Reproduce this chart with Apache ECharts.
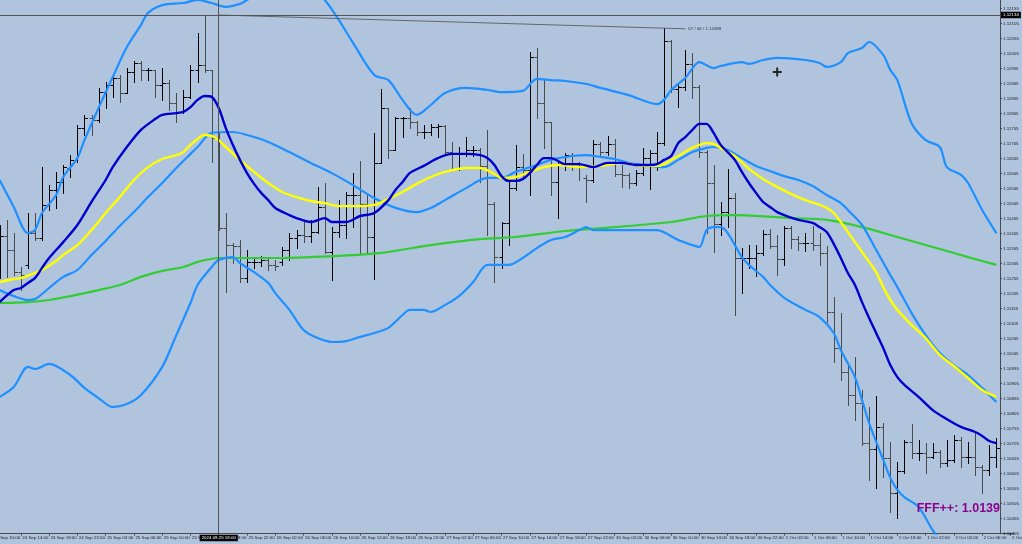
<!DOCTYPE html>
<html><head><meta charset="utf-8">
<script src="https://cdn.jsdelivr.net/npm/echarts@6/dist/echarts.min.js"></script>
<style>html,body{margin:0;padding:0;background:#b0c4de;}#c{width:1022px;height:544px;}</style>
</head><body><div id="c"></div>
<script>
// ---- time axis (hourly sessions, weekend skipped) ----
const sessions = [['24 Sep',10,23],['25 Sep',0,23],['26 Sep',0,23],['27 Sep',0,23],['30 Sep',0,23],['1 Oct',0,23],['2 Oct',0,10]];
const categories = [];
sessions.forEach(([d,h0,h1]) => { for (let h=h0; h<=h1; h++) categories.push(d + ' ' + String(h).padStart(2,'0') + ':00'); });

// ---- price axis ----
const yMin = 1.10405, yMax = 1.12184, yStep = 0.0005;

// ---- OHLC bars (index 0 = 24 Sep 10:00) ----
const open = [1.11384,1.11384,1.11397,1.11351,1.11277,1.11301,1.11407,1.11391,1.11501,1.11551,1.11577,1.11624,1.11651,1.11757,1.11791,1.11784,1.11877,1.11901,1.11924,1.11874,1.11944,1.11974,1.11951,1.11951,1.11901,1.11907,1.11841,1.11811,1.11861,1.11951,1.11967,1.11951,1.11724,1.11424,1.11367,1.11364,1.11257,1.11311,1.11311,1.11317,1.11301,1.11311,1.11351,1.11391,1.11401,1.11397,1.11411,1.11494,1.11344,1.11411,1.11434,1.11534,1.11534,1.11504,1.11394,1.11641,1.11824,1.11684,1.11791,1.11791,1.11777,1.11744,1.11744,1.11761,1.11764,1.11677,1.11671,1.11671,1.11684,1.11684,1.11631,1.11504,1.11327,1.11441,1.11557,1.11627,1.11617,1.11994,1.11841,1.11777,1.11577,1.11634,1.11667,1.11637,1.11591,1.11584,1.11704,1.11677,1.11704,1.11604,1.11601,1.11574,1.11607,1.11657,1.11674,1.11707,1.12047,1.11887,1.11894,1.11971,1.11894,1.11677,1.11574,1.11437,1.11477,1.11524,1.11324,1.11324,1.11324,1.11341,1.11404,1.11364,1.11321,1.11424,1.11387,1.11374,1.11374,1.11367,1.11341,1.11144,1.11024,1.10944,1.10867,1.10841,1.10707,1.10687,1.10761,1.10657,1.10541,1.10614,1.10711,1.10674,1.10674,1.10661,1.10677,1.10641,1.10651,1.10717,1.10661,1.10661,1.10627,1.10617,1.10661];
const high = [1.11434,1.11434,1.11451,1.11407,1.11294,1.11474,1.11474,1.11627,1.11567,1.11611,1.11634,1.11667,1.11767,1.11801,1.11801,1.11891,1.11911,1.11934,1.11934,1.11957,1.11981,1.11981,1.11957,1.11951,1.11957,1.11917,1.11874,1.11884,1.11967,1.12074,1.12134,1.11951,1.11744,1.11474,1.11374,1.11384,1.11351,1.11327,1.11331,1.11321,1.11317,1.11361,1.11407,1.11417,1.11444,1.11451,1.11561,1.11574,1.11427,1.11517,1.11544,1.11607,1.11647,1.11541,1.11741,1.11887,1.11824,1.11794,1.11794,1.11824,1.11781,1.11767,1.11771,1.11771,1.11767,1.11711,1.11694,1.11727,1.11697,1.11691,1.11751,1.11511,1.11444,1.11577,1.11701,1.11671,1.12011,1.12024,1.11921,1.11777,1.11651,1.11674,1.11674,1.11644,1.11601,1.11717,1.11711,1.11731,1.11721,1.11634,1.11607,1.11617,1.11691,1.11684,1.11744,1.12091,1.12051,1.11907,1.12017,1.12007,1.11901,1.11684,1.11634,1.11511,1.11621,1.11541,1.11357,1.11367,1.11367,1.11417,1.11421,1.11401,1.11431,1.11431,1.11397,1.11407,1.11431,1.11407,1.11364,1.11194,1.11141,1.10974,1.10994,1.10884,1.10827,1.10864,1.10774,1.10711,1.10644,1.10717,1.10771,1.10717,1.10707,1.10707,1.10684,1.10717,1.10734,1.10727,1.10711,1.10741,1.10634,1.10701,1.10724];
const low = [1.11284,1.11257,1.11261,1.11267,1.11217,1.11291,1.11384,1.11384,1.11484,1.11491,1.11541,1.11594,1.11644,1.11734,1.11734,1.11777,1.11824,1.11861,1.11844,1.11874,1.11911,1.11917,1.11917,1.11861,1.11851,1.11817,1.11777,1.11807,1.11857,1.11911,1.11944,1.11644,1.11417,1.11211,1.11307,1.11244,1.11244,1.11291,1.11297,1.11284,1.11284,1.11301,1.11317,1.11357,1.11377,1.11377,1.11407,1.11341,1.11251,1.11394,1.11391,1.11427,1.11341,1.11344,1.11254,1.11641,1.11657,1.11684,1.11727,1.11757,1.11734,1.11724,1.11734,1.11727,1.11674,1.11624,1.11617,1.11664,1.11664,1.11577,1.11401,1.11244,1.11291,1.11367,1.11551,1.11591,1.11534,1.11791,1.11691,1.11534,1.11457,1.11617,1.11617,1.11584,1.11511,1.11577,1.11667,1.11667,1.11597,1.11561,1.11557,1.11567,1.11601,1.11554,1.11617,1.11701,1.11877,1.11827,1.11884,1.11857,1.11661,1.11407,1.11344,1.11401,1.11427,1.11134,1.11207,1.11291,1.11264,1.11334,1.11357,1.11267,1.11301,1.11357,1.11351,1.11347,1.11351,1.11301,1.11111,1.10977,1.10917,1.10834,1.10784,1.10701,1.10584,1.10557,1.10594,1.10477,1.10457,1.10607,1.10657,1.10651,1.10607,1.10657,1.10627,1.10631,1.10644,1.10627,1.10641,1.10601,1.10541,1.10601,1.10627];
const close = [1.11384,1.11397,1.11351,1.11277,1.11267,1.11407,1.11391,1.11501,1.11551,1.11577,1.11627,1.11651,1.11757,1.11791,1.11784,1.11877,1.11901,1.11924,1.11874,1.11944,1.11974,1.11951,1.11951,1.11901,1.11907,1.11841,1.11811,1.11861,1.11951,1.11967,1.11951,1.11724,1.11424,1.11367,1.11364,1.11257,1.11311,1.11311,1.11317,1.11301,1.11297,1.11351,1.11391,1.11401,1.11397,1.11411,1.11494,1.11344,1.11411,1.11434,1.11534,1.11534,1.11504,1.11394,1.11641,1.11824,1.11684,1.11791,1.11791,1.11777,1.11744,1.11744,1.11761,1.11764,1.11677,1.11671,1.11671,1.11684,1.11684,1.11631,1.11504,1.11327,1.11441,1.11557,1.11627,1.11617,1.11994,1.11841,1.11777,1.11577,1.11634,1.11667,1.11637,1.11627,1.11584,1.11704,1.11677,1.11704,1.11604,1.11601,1.11574,1.11607,1.11657,1.11674,1.11707,1.12047,1.11887,1.11894,1.11971,1.11894,1.11677,1.11574,1.11437,1.11477,1.11524,1.11324,1.11324,1.11324,1.11341,1.11404,1.11364,1.11321,1.11424,1.11387,1.11374,1.11374,1.11367,1.11341,1.11144,1.11024,1.10944,1.10867,1.10841,1.10707,1.10687,1.10761,1.10657,1.10541,1.10614,1.10711,1.10674,1.10674,1.10661,1.10677,1.10641,1.10651,1.10717,1.10661,1.10661,1.10627,1.10617,1.10661,1.10691];

// ---- indicator lines: [bar index, price] read at sample points ----
const bbUpper = [[1,1.11584],[3,1.11494],[5,1.11407],[6,1.11417],[7,1.11474],[9,1.11534],[10,1.11594],[12,1.11657],[13,1.11717],[15,1.11824],[17,1.11927],[19,1.12027],[21,1.12101],[22,1.12141],[24,1.12167],[27,1.12174],[29,1.12184],[31,1.12174],[33,1.12161],[35,1.12171],[36,1.12184],[39,1.12224],[41,1.12244],[43,1.12244],[45,1.12224],[47,1.12184],[49,1.12117],[51,1.12041],[54,1.11934],[56,1.11917],[58,1.11851],[60,1.11801],[62,1.11834],[64,1.11874],[67,1.11891],[70,1.11884],[72,1.11877],[75,1.11881],[77,1.11921],[79,1.11917],[81,1.11914],[84,1.11904],[86,1.11891],[90,1.11867],[94,1.11837],[95,1.11851],[96,1.11884],[98,1.11924],[100,1.11977],[102,1.11957],[103,1.11964],[106,1.11977],[107,1.11971],[109,1.11984],[111,1.11991],[115,1.11984],[117,1.11974],[118,1.11961],[120,1.11977],[121,1.12007],[123,1.12024],[124,1.12044],[126,1.12001],[127,1.11951],[128,1.11917],[130,1.11774],[132,1.11717],[134,1.11694],[135,1.11627],[137,1.11601],[138,1.11574],[140,1.11484],[142,1.11407]];
const bbMiddle = [[1,1.11217],[3,1.11197],[5,1.11184],[6,1.11187],[8,1.11224],[10,1.11261],[12,1.11284],[14,1.11334],[16,1.11381],[18,1.11431],[20,1.11477],[22,1.11527],[24,1.11574],[26,1.11624],[28,1.11671],[29,1.11694],[31,1.11741],[34,1.11744],[36,1.11734],[39,1.11711],[42,1.11677],[45,1.11641],[48,1.11607],[51,1.11567],[54,1.11524],[57,1.11491],[60,1.11477],[62,1.11491],[64,1.11517],[67,1.11557],[70,1.11591],[72,1.11591],[74,1.11611],[77,1.11634],[79,1.11651],[82,1.11664],[84,1.11667],[86,1.11661],[88,1.11654],[90,1.11641],[93,1.11631],[95,1.11627],[97,1.11651],[99,1.11677],[101,1.11691],[102,1.11694],[104,1.11684],[106,1.11657],[108,1.11631],[110,1.11614],[112,1.11597],[114,1.11584],[116,1.11564],[118,1.11534],[120,1.11507],[121,1.11484],[123,1.11434],[125,1.11351],[127,1.11267],[128,1.11227],[130,1.11141],[132,1.11067],[134,1.11007],[136,1.10967],[138,1.10934],[140,1.10891],[142,1.10844]];
const bbLower = [[1,1.10861],[3,1.10894],[5,1.10961],[6,1.10954],[8,1.10971],[11,1.10934],[13,1.10891],[15,1.10857],[17,1.10827],[19,1.10837],[21,1.10867],[24,1.10961],[26,1.11067],[28,1.11174],[29,1.11234],[31,1.11294],[32,1.11317],[34,1.11327],[35,1.11307],[37,1.11277],[39,1.11241],[40,1.11207],[42,1.11151],[44,1.11084],[46,1.11057],[48,1.11044],[50,1.11047],[52,1.11061],[54,1.11074],[56,1.11091],[58,1.11134],[59,1.11151],[61,1.11151],[62,1.11144],[64,1.11167],[66,1.11197],[68,1.11244],[70,1.11301],[72,1.11301],[73,1.11301],[75,1.11324],[77,1.11357],[79,1.11384],[81,1.11394],[83,1.11417],[84,1.11427],[85,1.11417],[88,1.11417],[92,1.11417],[94,1.11417],[97,1.11384],[99,1.11367],[100,1.11361],[101,1.11417],[102,1.11427],[103,1.11427],[104,1.11407],[106,1.11327],[107,1.11301],[109,1.11261],[110,1.11234],[112,1.11191],[115,1.11151],[117,1.11127],[119,1.11074],[120,1.11017],[122,1.10927],[123,1.10851],[124,1.10774],[126,1.10651],[127,1.10591],[128,1.10551],[129,1.10527],[131,1.10494],[133,1.10417],[135,1.10357],[137,1.10301],[139,1.10251],[142,1.10184]];
const maFast = [[1,1.11177],[3,1.11217],[4,1.11224],[5,1.11241],[6,1.11257],[7,1.11291],[8,1.11324],[10,1.11377],[12,1.11434],[14,1.11511],[16,1.11584],[17,1.11627],[19,1.11694],[21,1.11751],[23,1.11787],[24,1.11801],[26,1.11807],[27,1.11811],[28,1.11827],[29,1.11851],[30,1.11864],[31,1.11861],[32,1.11824],[33,1.11757],[34,1.11701],[35,1.11651],[36,1.11607],[37,1.11571],[38,1.11541],[39,1.11517],[40,1.11491],[42,1.11467],[43,1.11457],[45,1.11444],[47,1.11457],[48,1.11444],[50,1.11444],[52,1.11464],[54,1.11474],[56,1.11517],[57,1.11551],[58,1.11577],[59,1.11607],[61,1.11631],[63,1.11657],[65,1.11671],[67,1.11671],[69,1.11667],[70,1.11657],[71,1.11634],[72,1.11597],[73,1.11581],[74,1.11581],[75,1.11587],[76,1.11607],[77,1.11634],[78,1.11657],[79,1.11657],[81,1.11637],[83,1.11637],[85,1.11627],[87,1.11641],[89,1.11641],[91,1.11634],[93,1.11634],[94,1.11637],[95,1.11651],[96,1.11664],[97,1.11707],[98,1.11727],[99,1.11751],[100,1.11771],[101,1.11771],[102,1.11741],[103,1.11701],[104,1.11677],[105,1.11651],[106,1.11611],[107,1.11574],[108,1.11541],[109,1.11511],[110,1.11494],[111,1.11477],[112,1.11467],[114,1.11451],[116,1.11441],[117,1.11427],[118,1.11411],[119,1.11371],[120,1.11324],[121,1.11274],[122,1.11234],[123,1.11177],[124,1.11124],[125,1.11074],[126,1.11024],[127,1.10967],[128,1.10927],[129,1.10901],[131,1.10861],[133,1.10817],[135,1.10787],[137,1.10761],[139,1.10744],[140,1.10731],[141,1.10714],[142,1.10707]];
const maMid = [[1,1.11244],[3,1.11254],[4,1.11257],[6,1.11274],[7,1.11284],[9,1.11314],[10,1.11334],[12,1.11367],[14,1.11417],[16,1.11474],[18,1.11527],[20,1.11584],[22,1.11627],[24,1.11654],[26,1.11667],[27,1.11677],[28,1.11701],[29,1.11721],[30,1.11734],[31,1.11731],[32,1.11717],[33,1.11694],[35,1.11651],[37,1.11611],[39,1.11574],[41,1.11544],[43,1.11527],[45,1.11514],[47,1.11507],[49,1.11497],[51,1.11497],[54,1.11501],[56,1.11521],[58,1.11544],[60,1.11571],[62,1.11594],[64,1.11611],[67,1.11624],[69,1.11624],[70,1.11617],[71,1.11604],[72,1.11591],[74,1.11594],[76,1.11611],[78,1.11627],[80,1.11634],[83,1.11627],[86,1.11631],[89,1.11641],[92,1.11631],[94,1.11631],[95,1.11637],[96,1.11651],[97,1.11664],[99,1.11691],[101,1.11707],[102,1.11704],[103,1.11691],[105,1.11664],[107,1.11621],[109,1.11587],[111,1.11561],[113,1.11537],[115,1.11517],[117,1.11501],[118,1.11491],[119,1.11474],[120,1.11444],[122,1.11377],[123,1.11344],[124,1.11311],[125,1.11277],[126,1.11227],[127,1.11184],[128,1.11151],[130,1.11101],[132,1.11057],[134,1.11001],[136,1.10964],[138,1.10924],[140,1.10884],[142,1.10861]];
const maSlow = [[1,1.11174],[5,1.11177],[8,1.11184],[11,1.11197],[15,1.11217],[18,1.11234],[21,1.11261],[24,1.11281],[27,1.11294],[29,1.11311],[32,1.11324],[36,1.11324],[41,1.11324],[45,1.11327],[49,1.11331],[55,1.11341],[62,1.11367],[69,1.11387],[74,1.11394],[81,1.11414],[88,1.11427],[96,1.11444],[101,1.11464],[105,1.11467],[113,1.11457],[118,1.11451],[123,1.11427],[128,1.11394],[134,1.11354],[138,1.11327],[142,1.11301]];

// ---- crosshair / measurement / cursor ----
const crossIndex = 32, crossPrice = 1.12134, crossTimeText = '2024.09.25 18:00';
const measureLine = [[32, 1.12134], [97.5, 1.12088]];
const measureText = '67 / 46 / 1.12088';
const cursorPoint = [[111, 1.11944]];
const infoText = 'FFF++: 1.0139';

const bars = open.map((o, i) => [i, o, high[i], low[i], close[i]]);
const labelFilter = (idx, val) => { const h = parseInt(val.slice(-5, -3), 10); return h % 4 === 2; };

function renderBar(params, api) {
  const i = api.value(0), o = api.value(1), h = api.value(2), l = api.value(3), c = api.value(4);
  const pO = api.coord([i, o]), pH = api.coord([i, h]), pL = api.coord([i, l]), pC = api.coord([i, c]);
  const x = Math.round(pO[0]) + 0.5;
  const yo = Math.round(pO[1]) + 0.5, yc = Math.round(pC[1]) + 0.5;
  const style = { stroke: c >= o ? '#000000' : '#4a4a4a', lineWidth: 1 };
  return { type: 'group', children: [
    { type: 'line', shape: { x1: x, y1: Math.round(pH[1]), x2: x, y2: Math.round(pL[1]) + 1 }, style },
    { type: 'line', shape: { x1: x - 3, y1: yo, x2: x, y2: yo }, style },
    { type: 'line', shape: { x1: x, y1: yc, x2: x + 3.5, y2: yc }, style }
  ]};
}

const FONT = 'Liberation Sans';
const lineSeries = (name, data, color, width, z) => ({
  name, type: 'line', data, symbol: 'none', smooth: 0.3, clip: true, silent: true, z,
  lineStyle: { color, width }
});

const chart = echarts.init(document.getElementById('c'), null, { renderer: 'canvas' });
chart.setOption({
  backgroundColor: '#b0c4de',
  animation: false,
  title: { text: infoText, right: 22, top: 502, padding: 0,
    textStyle: { color: '#8b008b', fontSize: 12.5, fontWeight: 'bold', fontFamily: FONT } },
  grid: { left: -11, top: 0, width: 1025, height: 533.7, outerBoundsMode: 'none', containLabel: false },
  axisPointer: { triggerOn: 'none' },
  xAxis: {
    type: 'category', data: categories, boundaryGap: true,
    axisLine: { show: true, lineStyle: { color: '#4a4a4a', width: 1 } },
    axisTick: { show: true, alignWithLabel: true, interval: labelFilter, length: 2, lineStyle: { color: '#4a4a4a' } },
    axisLabel: { interval: labelFilter, align: 'left', fontSize: 4.4, margin: 2, color: '#1a1a1a', fontFamily: FONT, padding: [0, 0, 0, 1.5] },
    splitLine: { show: false },
    axisPointer: { show: true, type: 'line', value: crossIndex, status: 'show', snap: false, triggerTooltip: false,
      lineStyle: { color: '#555555', width: 1, type: 'solid' },
      label: { show: true, formatter: () => crossTimeText, backgroundColor: '#000', color: '#fff', fontSize: 4.4, fontFamily: FONT, padding: [1.5, 2, 1, 2], margin: 1, borderRadius: 0 } }
  },
  yAxis: {
    type: 'value', position: 'right', offset: -14, min: yMin, max: yMax, interval: yStep, scale: true,
    axisLine: { show: true, lineStyle: { color: '#4a4a4a', width: 1 } },
    axisTick: { show: true, length: 2, lineStyle: { color: '#4a4a4a' } },
    axisLabel: { fontSize: 4.4, margin: 3, color: '#1a1a1a', fontFamily: FONT, showMaxLabel: false, formatter: v => v.toFixed(5) },
    splitLine: { show: false },
    axisPointer: { show: true, type: 'line', value: crossPrice, status: 'show', snap: false, triggerTooltip: false,
      lineStyle: { color: '#555555', width: 1, type: 'solid' },
      label: { show: true, formatter: () => crossPrice.toFixed(5), backgroundColor: '#000', color: '#fff', fontSize: 4.4, fontFamily: FONT, padding: [1.5, 2, 1, 2], margin: 1, borderRadius: 0 } }
  },
  series: [
    { name: 'bars', type: 'custom', renderItem: renderBar, data: bars, clip: true, silent: true, z: 2,
      encode: { x: 0, y: [1, 2, 3, 4] } },
    lineSeries('MA slow', maSlow, '#32cd32', 2.2, 3),
    lineSeries('BB upper', bbUpper, '#1e90ff', 2.2, 4),
    lineSeries('BB middle', bbMiddle, '#1e90ff', 2.2, 4),
    lineSeries('BB lower', bbLower, '#1e90ff', 2.2, 4),
    lineSeries('MA mid', maMid, '#ffff00', 2.4, 5),
    lineSeries('MA fast', maFast, '#0000cd', 2.4, 6),
    { name: 'measure', type: 'line', data: measureLine, symbol: 'none', silent: true, z: 7,
      lineStyle: { color: '#666666', width: 1 },
      endLabel: { show: true, formatter: () => measureText, fontSize: 4.4, color: '#333', fontFamily: FONT, distance: 3 } },
    { name: 'cursor', type: 'scatter', data: cursorPoint, silent: true, z: 8,
      symbol: 'path://M3.5,0h2v3.5h3.5v2h-3.5v3.5h-2v-3.5h-3.5v-2h3.5z', symbolSize: 9,
      itemStyle: { color: '#000' } }
  ]
});
</script>
</body></html>
